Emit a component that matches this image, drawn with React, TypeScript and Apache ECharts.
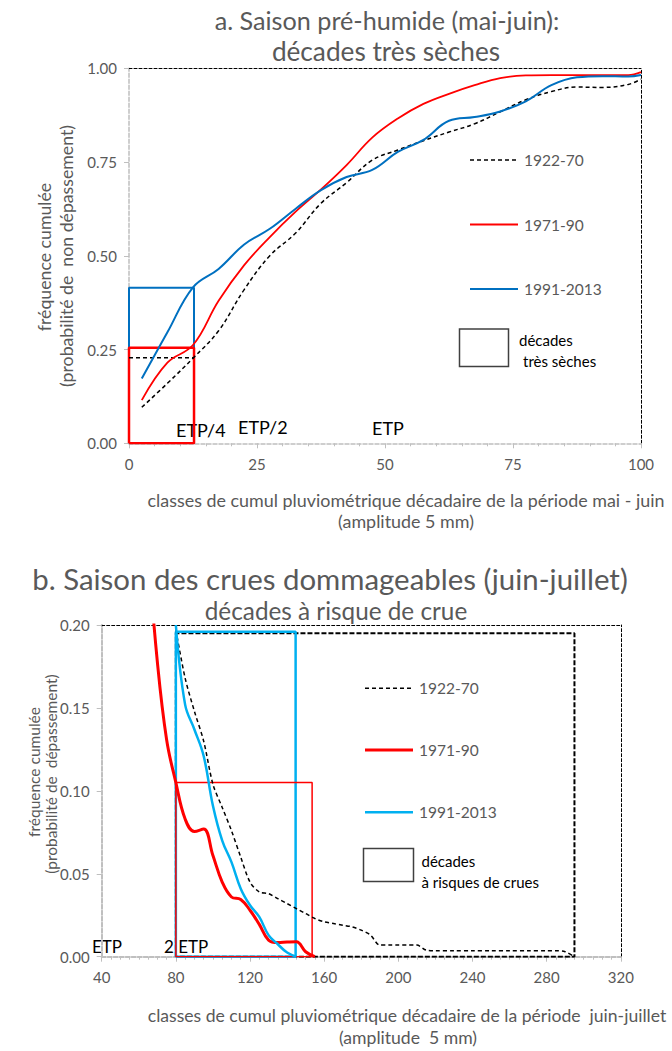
import React, { useEffect, useRef } from "react";
import * as echarts from "echarts";

const FONT = "Lato, 'Liberation Sans', sans-serif";
const GRAY = "#595959";
const AXIS_GRAY = "#BFBFBF";

// ---------- Chart a : saison pré-humide ----------
const aXRange = [0, 100];
const aXInterval = 25;
const aYRange = [0, 1];
const aYInterval = 0.25;
const aX = [2.5, 7.5, 12.5, 17.5, 22.5, 27.5, 32.5, 37.5, 42.5, 47.5, 52.5, 57.5, 62.5, 67.5, 72.5, 77.5, 82.5, 87.5, 92.5, 97.5, 100];
const a1922_70 = [0.096, 0.16, 0.227, 0.3, 0.41, 0.5, 0.56, 0.64, 0.695, 0.755, 0.782, 0.807, 0.83, 0.852, 0.884, 0.916, 0.938, 0.95, 0.949, 0.957, 0.971];
const a1971_90 = [0.115, 0.215, 0.262, 0.38, 0.475, 0.55, 0.617, 0.677, 0.742, 0.815, 0.866, 0.905, 0.932, 0.955, 0.974, 0.981, 0.982, 0.982, 0.982, 0.982, 0.99];
const a1991_2013 = [0.173, 0.296, 0.416, 0.465, 0.53, 0.572, 0.625, 0.675, 0.71, 0.729, 0.777, 0.809, 0.86, 0.87, 0.885, 0.912, 0.955, 0.976, 0.979, 0.978, 0.982];
// "décades très sèches" boxes (x limit = ETP/4)
const aBoxXMax = 12.7;
const aBoxBlueTop = 0.415;
const aBoxRedTop = 0.255;
const aLine1922 = 0.228;

// ---------- Chart b : crues dommageables ----------
const bXRange = [40, 320];
const bXInterval = 40;
const bYRange = [0, 0.2];
const bYInterval = 0.05;
const bX1922 = [80, 85, 90, 95, 100, 105, 110, 115, 120, 125, 130, 135, 140, 145, 150, 155, 160, 165, 170, 175, 180, 185, 190, 195, 200, 205, 210, 215, 220, 230, 240, 250, 260, 270, 280, 285, 290, 295];
const b1922_70 = [0.197, 0.168, 0.148, 0.13, 0.104, 0.09, 0.076, 0.06, 0.045, 0.039, 0.038, 0.035, 0.032, 0.029, 0.026, 0.023, 0.021, 0.02, 0.019, 0.018, 0.016, 0.013, 0.007, 0.007, 0.007, 0.007, 0.007, 0.004, 0.0036, 0.0036, 0.0036, 0.0036, 0.0036, 0.0036, 0.0036, 0.0036, 0.003, 0];
const bX1971 = [65, 70, 75, 80, 85, 90, 95, 100, 105, 110, 115, 120, 125, 130, 135, 140, 145, 150, 155];
const b1971_90 = [0.245, 0.178, 0.131, 0.105, 0.083, 0.0755, 0.077, 0.061, 0.045, 0.036, 0.0345, 0.028, 0.0195, 0.01, 0.0085, 0.0088, 0.009, 0.003, 0];
const bX1991 = [80, 85, 90, 95, 100, 105, 110, 115, 120, 125, 130, 135, 140, 145];
const b1991_2013 = [0.2, 0.152, 0.137, 0.121, 0.091, 0.07, 0.057, 0.041, 0.031, 0.024, 0.013, 0.0075, 0.0025, 0];
// "décades à risques de crues" boxes
const bBoxXMin = 80;
const bBox1922 = { xMax: 295, top: 0.195 };
const bBox1991 = { xMax: 144.6, top: 0.196 };
const bBox1971 = { xMax: 153.5, top: 0.105 };

const pairs = (xs: number[], ys: number[]) => xs.map((x, i) => [x, ys[i]]);
const box = (x0: number, x1: number, y0: number, y1: number) => [
  [x0, y0],
  [x0, y1],
  [x1, y1],
  [x1, y0],
  [x0, y0],
];

// font size that makes a text line as wide as in the reference
let measureCtx: CanvasRenderingContext2D | null = null;
const fit = (text: string, width: number, fallback: number) => {
  try {
    if (!measureCtx) measureCtx = document.createElement("canvas").getContext("2d");
    if (!measureCtx) return fallback;
    measureCtx.font = "100px Lato";
    const w = measureCtx.measureText(text).width;
    if (!w) return fallback;
    return Math.round(((100 * width) / w) * 10) / 10;
  } catch (e) {
    return fallback;
  }
};

const txt = (text: string, x: number, y: number, size: number, fill: string, align = "left", rotation = 0) => ({
  type: "text",
  x,
  y,
  rotation,
  silent: true,
  style: {
    text,
    x: 0,
    y: 0,
    fill,
    fontSize: size,
    fontFamily: FONT,
    align,
    textAlign: align,
    verticalAlign: "middle",
    textVerticalAlign: "middle",
  },
});

const legLine = (x1: number, x2: number, y: number, stroke: string, w: number, dash?: number[]) => ({
  type: "line",
  silent: true,
  shape: { x1, y1: y, x2, y2: y },
  style: { stroke, lineWidth: w, lineDash: dash || null },
});

const legRect = (x: number, y: number, w: number, h: number) => ({
  type: "rect",
  silent: true,
  shape: { x, y, width: w, height: h },
  style: { fill: "#fff", stroke: "#404040", lineWidth: 1.5 },
});

const baseAxes = (xr: number[], xi: number, xMinorSplit: number, yr: number[], yi: number, axisW: number) => ({
  xAxis: [
    {
      type: "value",
      min: xr[0],
      max: xr[1],
      interval: xi,
      position: "bottom",
      axisLine: { show: true, onZero: false, lineStyle: { color: AXIS_GRAY, width: axisW, type: [4, 2] } },
      axisTick: { show: true, length: 5, lineStyle: { color: AXIS_GRAY, width: 1 } },
      minorTick: { show: true, splitNumber: xMinorSplit, length: 3, lineStyle: { color: AXIS_GRAY, width: 1 } },
      axisLabel: { color: GRAY, fontSize: 15, fontFamily: FONT, margin: 13 },
      splitLine: { show: false },
      minorSplitLine: { show: false },
    },
    {
      type: "value",
      min: xr[0],
      max: xr[1],
      position: "top",
      axisLine: { show: true, onZero: false, lineStyle: { color: "#000", width: 1, type: [3, 2] } },
      axisTick: { show: false },
      axisLabel: { show: false },
      splitLine: { show: false },
    },
  ],
  yAxis: [
    {
      type: "value",
      min: yr[0],
      max: yr[1],
      interval: yi,
      position: "left",
      axisLine: { show: true, onZero: false, lineStyle: { color: AXIS_GRAY, width: axisW, type: [4, 2] } },
      axisTick: { show: true, length: 5, lineStyle: { color: AXIS_GRAY, width: 1 } },
      axisLabel: { color: GRAY, fontSize: 15, fontFamily: FONT, margin: 12, formatter: (v: number) => v.toFixed(2) },
      splitLine: { show: false },
    },
    {
      type: "value",
      min: yr[0],
      max: yr[1],
      position: "right",
      axisLine: { show: true, onZero: false, lineStyle: { color: "#000", width: 1, type: [3, 2] } },
      axisTick: { show: false },
      axisLabel: { show: false },
      splitLine: { show: false },
    },
  ],
});

const lineSeries = (name: string, data: number[][], color: string, width: number, dash?: number[], smooth: number | boolean = 0.4, z = 3) => ({
  type: "line",
  name,
  data,
  xAxisIndex: 0,
  yAxisIndex: 0,
  symbol: "none",
  showSymbol: false,
  smooth,
  silent: true,
  z,
  itemStyle: { color },
  lineStyle: { color, width, type: dash || "solid" },
});

const A_T1 = "a. Saison pré-humide (mai-juin):";
const A_T2 = "décades très sèches";
const A_Y1 = "fréquence cumulée";
const A_Y2 = "(probabilité de  non dépassement)";
const A_X1 = "classes de cumul pluviométrique décadaire de la période mai - juin";
const A_X2 = "(amplitude 5 mm)";
const B_T1 = "b. Saison des crues dommageables (juin-juillet)";
const B_T2 = "décades à risque de crue";
const B_Y1 = "fréquence cumulée";
const B_Y2 = "(probabilité de  dépassement)";
const B_X1 = "classes de cumul pluviométrique décadaire de la période  juin-juillet";
const B_X2 = "(amplitude  5 mm)";

function buildA() {
  const t1 = fit(A_T1, 345, 25);
  const t2 = Math.min(fit(A_T2, 228, 25), t1 * 1.08);
  const ys = fit(A_Y2, 262, 17);
  const xs = fit(A_X1, 518, 17.5);
  return {
    animation: false,
    textStyle: { fontFamily: FONT },
    grid: { left: 129, top: 68.3, width: 512, height: 375 },
    ...baseAxes(aXRange, aXInterval, 5, aYRange, aYInterval, 1.5),
    series: [
      lineSeries("décades 1991-2013", box(0, aBoxXMax, 0, aBoxBlueTop), "#0070C0", 2, undefined, false, 2),
      lineSeries("décades 1971-90", box(0, aBoxXMax, 0, aBoxRedTop), "#FF0000", 2.5, undefined, false, 2),
      lineSeries("décades 1922-70", [[0, aLine1922], [aBoxXMax, aLine1922]], "#000", 1.5, [4, 3], false, 2),
      lineSeries("1922-70", pairs(aX, a1922_70), "#000", 1.5, [4, 3]),
      lineSeries("1971-90", pairs(aX, a1971_90), "#FF0000", 1.8),
      lineSeries("1991-2013", pairs(aX, a1991_2013), "#0070C0", 2),
    ],
    graphic: [
      txt(A_T1, 387, 20, t1, GRAY, "center"),
      txt(A_T2, 386, 51, t2, GRAY, "center"),
      txt(A_Y1, 44, 257, ys, GRAY, "center", Math.PI / 2),
      txt(A_Y2, 66, 256, ys, GRAY, "center", Math.PI / 2),
      txt(A_X1, 406, 500, xs, GRAY, "center"),
      txt(A_X2, 406, 521, xs, GRAY, "center"),
      txt("ETP/4", 176, 430, 18, "#000"),
      txt("ETP/2", 238, 427, 18, "#000"),
      txt("ETP", 372, 428, 18, "#000"),
      legLine(470, 518, 160, "#000", 1.5, [4, 3]),
      txt("1922-70", 524, 160, 15.5, GRAY),
      legLine(470, 518, 224.5, "#FF0000", 1.8),
      txt("1971-90", 524, 224.5, 15.5, GRAY),
      legLine(470, 518, 289, "#0070C0", 2),
      txt("1991-2013", 524, 289, 15.5, GRAY),
      legRect(459.5, 329, 49, 37.5),
      txt("décades", 519, 340, 15, "#000"),
      txt("très sèches", 523, 361, 15, "#000"),
    ],
  };
}

function buildB() {
  const t1 = fit(B_T1, 596, 28);
  const t2 = fit(B_T2, 263, 25);
  const ys = fit(B_Y2, 200, 14);
  const xs = fit(B_X1, 520, 17.5);
  return {
    animation: false,
    textStyle: { fontFamily: FONT },
    grid: { left: 101.7, top: 85, width: 519.1, height: 331.7 },
    ...baseAxes(bXRange, bXInterval, 8, bYRange, bYInterval, 2),
    series: [
      lineSeries("décades 1922-70", box(bBoxXMin, bBox1922.xMax, 0, bBox1922.top), "#000", 2, [5, 2], false, 2),
      lineSeries("décades 1991-2013", box(bBoxXMin, bBox1991.xMax, 0, bBox1991.top), "#00B0F0", 2.5, undefined, false, 2),
      lineSeries("décades 1971-90", box(bBoxXMin, bBox1971.xMax, 0, bBox1971.top), "#FF0000", 1.5, undefined, false, 2),
      lineSeries("1922-70", pairs(bX1922, b1922_70), "#000", 1.5, [4, 3], 0.3),
      lineSeries("1971-90", pairs(bX1971, b1971_90), "#FF0000", 3, undefined, 0.4),
      lineSeries("1991-2013", pairs(bX1991, b1991_2013), "#00B0F0", 2.5, undefined, 0.4),
    ],
    graphic: [
      txt(B_T1, 330, 38, t1, GRAY, "center"),
      txt(B_T2, 336, 70, t2, GRAY, "center"),
      txt(B_Y1, 34, 232, ys, GRAY, "center", Math.PI / 2),
      txt(B_Y2, 51, 234, ys, GRAY, "center", Math.PI / 2),
      txt(B_X1, 407, 475, xs, GRAY, "center"),
      txt(B_X2, 408, 497, xs, GRAY, "center"),
      txt("ETP", 92, 406, 17, "#000"),
      txt("2 ETP", 164, 406, 17, "#000"),
      legLine(365, 413, 148.3, "#000", 1.5, [4, 3]),
      txt("1922-70", 419, 148.3, 15.5, GRAY),
      legLine(365, 413, 210, "#FF0000", 3),
      txt("1971-90", 419, 210, 15.5, GRAY),
      legLine(365, 413, 272.3, "#00B0F0", 2.5),
      txt("1991-2013", 419, 272.3, 15.5, GRAY),
      legRect(363.5, 308.5, 50, 33),
      txt("décades", 421.5, 321, 15, "#000"),
      txt("à risques de crues", 421.5, 342, 15, "#000"),
    ],
  };
}

export default function App() {
  const refA = useRef<HTMLDivElement>(null);
  const refB = useRef<HTMLDivElement>(null);

  useEffect(() => {
    const ca = echarts.init(refA.current!, null, { renderer: "svg" });
    const cb = echarts.init(refB.current!, null, { renderer: "svg" });
    ca.setOption(buildA() as any);
    cb.setOption(buildB() as any);
    return () => {
      ca.dispose();
      cb.dispose();
    };
  }, []);

  return (
    <div style={{ position: "absolute", left: 0, top: 0, width: 672, height: 1051, background: "#fff" }}>
      <div ref={refA} style={{ position: "absolute", left: 0, top: 0, width: 672, height: 540 }} />
      <div ref={refB} style={{ position: "absolute", left: 0, top: 540, width: 672, height: 511 }} />
    </div>
  );
}
